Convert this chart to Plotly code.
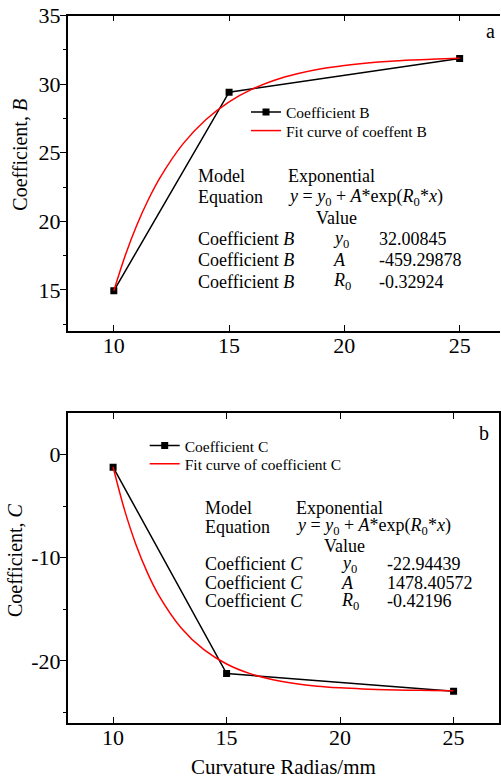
import plotly.graph_objects as go

# ---------------- data ----------------
radius = [10, 15, 25]
coef_b = [14.93, 29.42, 31.87]
coef_c = [-1.22, -21.23, -22.94]

fit_x = [10, 10.5, 11, 11.5, 12, 13, 14, 15, 16, 17, 18, 19, 20, 21, 22, 23, 24, 25]
fit_b = [14.93, 17.53, 19.73, 21.59, 23.17, 25.65, 27.43, 28.72, 29.64, 30.31,
         30.78, 31.13, 31.37, 31.55, 31.68, 31.77, 31.84, 31.89]
fit_c = [-1.21, -5.34, -8.69, -11.40, -13.60, -16.81, -18.92, -20.31, -21.22, -21.81,
         -22.20, -22.46, -22.62, -22.73, -22.81, -22.85, -22.88, -22.91]

x_ticks = [10, 15, 20, 25]
b_ticks = [15, 20, 25, 30, 35]
c_ticks = [-20, -10, 0]
c_ticktext = ["-20", "-10", "0"]

b_params = ["32.00845", "-459.29878", "-0.32924"]
c_params = ["-22.94439", "1478.40572", "-0.42196"]
param_names = ["<i>y</i><sub>0</sub>", "<i>A</i>", "<i>R</i><sub>0</sub>"]
equation = "<i>y</i> = <i>y</i><sub>0</sub> + <i>A</i>*exp(<i>R</i><sub>0</sub>*<i>x</i>)"

W, H = 501, 780
FONT = "Liberation Serif, Times New Roman, serif"


def px(x):
    return x / W


def py(y):
    return 1 - y / H


fig = go.Figure()

# top panel
fig.add_trace(go.Scatter(x=radius, y=coef_b, mode="lines+markers", name="Coefficient B",
                         line=dict(color="black", width=1.5),
                         marker=dict(symbol="square", size=7, color="black"),
                         xaxis="x", yaxis="y", legend="legend"))
fig.add_trace(go.Scatter(x=fit_x, y=fit_b, mode="lines", name="Fit curve of coeffent B",
                         line=dict(color="red", width=1.5, shape="spline"),
                         xaxis="x", yaxis="y", legend="legend2"))
# bottom panel
fig.add_trace(go.Scatter(x=radius, y=coef_c, mode="lines+markers", name="Coefficient C",
                         line=dict(color="black", width=1.5),
                         marker=dict(symbol="square", size=7, color="black"),
                         xaxis="x2", yaxis="y2", legend="legend3"))
fig.add_trace(go.Scatter(x=fit_x, y=fit_c, mode="lines", name="Fit curve of coefficient C",
                         line=dict(color="red", width=1.5, shape="spline"),
                         xaxis="x2", yaxis="y2", legend="legend4"))

tickfont = dict(family=FONT, size=22, color="black")

xcommon = dict(showgrid=False, zeroline=False, showline=True, linecolor="black", linewidth=1.5,
               mirror="ticks", ticks="inside", ticklen=6, tickwidth=1, tickcolor="black",
               tickvals=x_ticks, tickfont=tickfont, automargin=False, ticklabelstandoff=-6)
ycommon = dict(showgrid=False, zeroline=False, showline=True, linecolor="black", linewidth=1.5,
               mirror=True, ticks="outside", ticklen=6, tickwidth=1, tickcolor="black",
               tickfont=tickfont, automargin=False, ticklabelstandoff=-5,
               minor=dict(ticks="outside", ticklen=3, tickwidth=1, tickcolor="black"))


def leg(x, y):
    return dict(x=px(x), y=py(y), xanchor="left", yanchor="middle", bgcolor="rgba(0,0,0,0)",
                font=dict(family=FONT, size=15.5, color="black"), itemwidth=30)


fig.update_layout(
    width=W, height=H,
    margin=dict(l=0, r=0, t=0, b=0),
    paper_bgcolor="white", plot_bgcolor="white",
    font=dict(family=FONT, color="black"),
    showlegend=True,
    xaxis=dict(xcommon, domain=[px(67.7), px(500)], range=[8, 26.75], anchor="y"),
    yaxis=dict(ycommon, domain=[py(331), py(15.7)], range=[12, 35], tickvals=b_ticks,
               mirror=False,
               minor=dict(ycommon["minor"], dtick=2.5, tick0=0), anchor="x"),
    xaxis2=dict(xcommon, domain=[px(67.7), px(499)], range=[8, 27], anchor="y2"),
    yaxis2=dict(ycommon, domain=[py(722.7), py(413.3)], range=[-26, 4], tickvals=c_ticks,
                ticktext=c_ticktext,
                minor=dict(ycommon["minor"], dtick=5, tick0=0), anchor="x2"),
    legend=leg(246, 112.3),
    legend2=leg(246, 131),
    legend3=leg(144.7, 446),
    legend4=leg(144.7, 464.3),
)

ann = []


def text(x, y, s, size=18, xanchor="left", angle=0):
    ann.append(dict(x=px(x), y=py(y), xref="paper", yref="paper", text=s, showarrow=False,
                    xanchor=xanchor, yanchor="middle", textangle=angle,
                    font=dict(family=FONT, size=size, color="black")))


def table(cols, rows, coef, params):
    c1, c2, cv, cp, cn = cols
    text(c1, rows[0], "Model")
    text(c2, rows[0], "Exponential")
    text(c1, rows[1], "Equation")
    text(c2, rows[1], equation)
    text(cv, rows[2], "Value")
    for i in range(3):
        text(c1, rows[3 + i], "Coefficient <i>%s</i>" % coef)
        text(cp, rows[3 + i], param_names[i])
        text(cn, rows[3 + i], params[i])


table([195.7, 285.7, 314, 331.3, 377.3], [175.7, 197, 217.7, 239.3, 260.3, 281.7], "B", b_params)
table([203.3, 294, 322.3, 339, 385.3], [507.7, 526.7, 545.7, 564, 582.7, 601], "C", c_params)

text(490.7, 30.7, "a", size=20, xanchor="center")
text(484.3, 433.3, "b", size=20, xanchor="center")
text(20, 154.7, "Coefficient, <i>B</i>", size=20, xanchor="center", angle=-90)
text(15, 560, "Coefficient, <i>C</i>", size=20, xanchor="center", angle=-90)
text(283.3, 766.7, "Curvature Radias/mm", size=21, xanchor="center")

fig.update_layout(annotations=ann)
fig.write_html("out.html", config={"displayModeBar": False},
               post_script="document.body.style.margin='0px';")
